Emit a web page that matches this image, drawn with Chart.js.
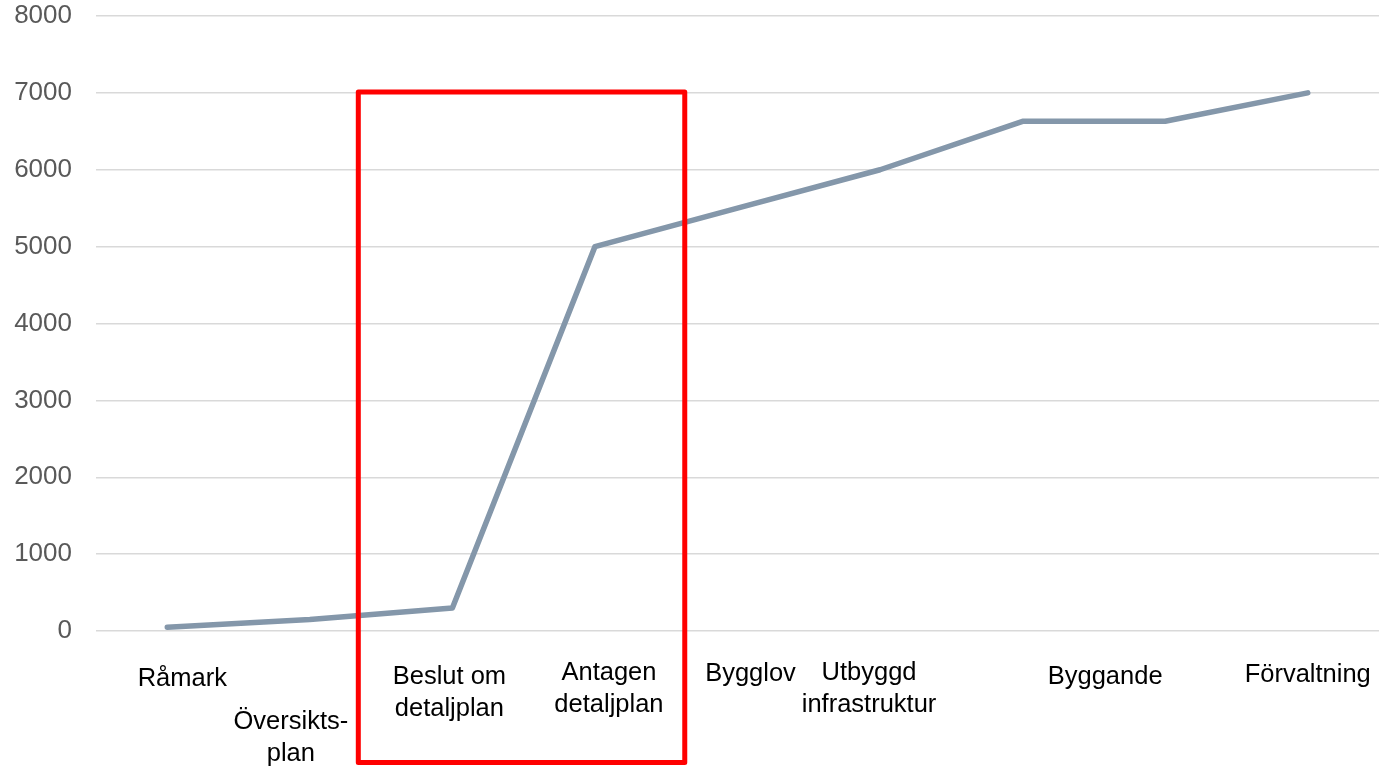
<!DOCTYPE html>
<html>
<head>
<meta charset="utf-8">
<script src="https://cdn.jsdelivr.net/npm/chart.js@4/dist/chart.umd.min.js"></script>
<style>
    html, body { margin: 0; padding: 0; background: #ffffff; }
    #wrap { width: 1379px; height: 771px; }
</style>
</head>
<body>
<div id="wrap"><canvas id="stages"></canvas></div>
<script>
(function (window, undefined) {
'use strict';

// categories (one per stage), an empty one where no label was printed
var categories = [ 'Råmark', 'Översikts-plan', 'Beslut om detaljplan', 'Antagen detaljplan',
    'Bygglov', 'Utbyggd infrastruktur', '', 'Byggande', 'Förvaltning' ];
var stageLabels = [
    [ 'Råmark' ],
    [ 'Översikts-', 'plan' ],
    [ 'Beslut om', 'detaljplan' ],
    [ 'Antagen', 'detaljplan' ],
    [ 'Bygglov' ],
    [ 'Utbyggd', 'infrastruktur' ],
    [],
    [ 'Byggande' ],
    [ 'Förvaltning' ]
];
var values = [ 50, 150, 300, 5000, 5500, 6000, 6630, 6630, 7000 ];
var yTicks = [ 0, 1000, 2000, 3000, 4000, 5000, 6000, 7000, 8000 ];

// highlighted span (category index range, top value)
var boxFrom = 1.34;
var boxTo = 3.63;
var boxTop = 7000;

var FONT = '"Liberation Sans", Arial, sans-serif';

// the labels under the axis sit a little off their ticks in the original
var labelShift = [
    { dx: 15, dy: 48 }, { dx: -19, dy: 91 }, { dx: -3, dy: 46 }, { dx: 14, dy: 42 },
    { dx: 13, dy: 43 }, { dx: -11, dy: 42 }, { dx: 0, dy: 0 }, { dx: -60, dy: 46 },
    { dx: 0, dy: 44 }
];

var stageLabelPlugin = {
    id: 'stageLabels',
    afterDraw: function( chart ) {
        var ctx = chart.ctx;
        var x = chart.scales.x;
        var base = chart.chartArea.bottom;
        ctx.save();
        ctx.font = '25.5px ' + FONT;
        ctx.fillStyle = '#000000';
        ctx.textAlign = 'center';
        ctx.textBaseline = 'middle';
        stageLabels.forEach( function( lines, i ) {
            var px = x.getPixelForValue( i ) + labelShift[ i ].dx;
            lines.forEach( function( line, k ) {
                ctx.fillText( line, px, base + labelShift[ i ].dy + k * 32 );
            });
        });
        ctx.restore();
    }
};

var boxPlugin = {
    id: 'highlightBox',
    afterDraw: function( chart ) {
        var ctx = chart.ctx;
        var x = chart.scales.x;
        var y = chart.scales.y;
        var left = x.getPixelForValue( boxFrom );
        var right = x.getPixelForValue( boxTo );
        var top = y.getPixelForValue( boxTop ) - 1;
        var bottom = chart.chartArea.bottom + 131.5;
        ctx.save();
        ctx.strokeStyle = '#ff0000';
        ctx.lineWidth = 5;
        ctx.lineJoin = 'round';
        ctx.strokeRect( left, top, right - left, bottom - top );
        ctx.restore();
    }
};

var ctx = document.getElementById( 'stages' ).getContext( '2d' );
var chart = new Chart( ctx, {
    type: 'line',
    data: {
        labels: categories,
        datasets: [
            {
                data: values,
                borderColor: '#8497aa',
                borderWidth: 5.5,
                borderCapStyle: 'round',
                borderJoinStyle: 'round',
                tension: 0,
                pointRadius: 0,
                pointHoverRadius: 0,
                fill: false
            }
        ]
    },
    options: {
        responsive: true,
        maintainAspectRatio: false,
        animation: false,
        events: [],
        layout: { padding: { top: 16, right: 0, bottom: 140, left: 0 } },
        plugins: {
            legend: { display: false },
            tooltip: { enabled: false }
        },
        scales: {
            x: {
                display: false,
                offset: true
            },
            y: {
                min: 0,
                max: 8000,
                afterBuildTicks: function( scale ) {
                    scale.ticks = yTicks.map( function( v ) { return { value: v }; } );
                },
                afterFit: function( scale ) {
                    scale.width = 96;
                    // no extra room for the half labels at the ends
                    scale.paddingTop = 0;
                    scale.paddingBottom = 0;
                },
                border: { display: false },
                grid: {
                    color: '#d9d9d9',
                    lineWidth: 1.5,
                    drawTicks: false
                },
                ticks: {
                    color: '#595959',
                    padding: 24,
                    font: { family: FONT, size: 26 },
                    callback: function( value ) {
                        return String( value );
                    }
                }
            }
        }
    },
    plugins: [ stageLabelPlugin, boxPlugin ]
});

})(window);
</script>
</body>
</html>
